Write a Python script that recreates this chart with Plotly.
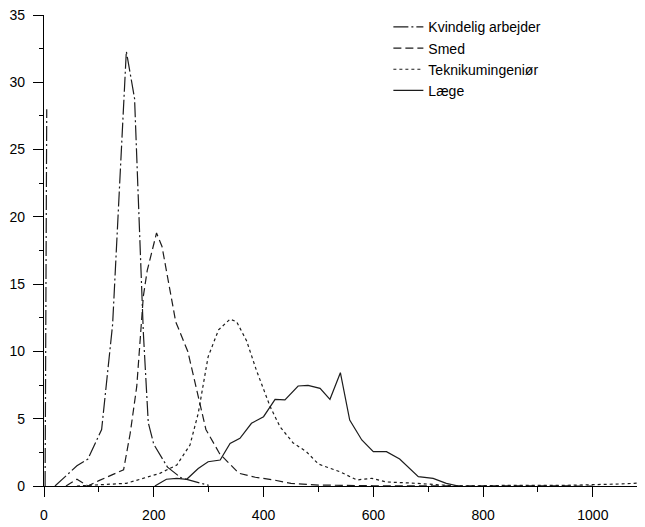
import plotly
import plotly.graph_objects


##########
# Inputs #
##########

# Income (x) and share in percent (y)
KVINDELIG_X = [2, 5, None, 20, 60, 80, 105, 125, 150, 165, 175, 181, 190, 200, 225, 250, 300]
KVINDELIG_Y = [0, 28, None, 0, 1.5, 2.0, 4.2, 12.0, 32.3, 28.8, 17.5, 11.4, 4.7, 3.1, 1.4, 0.6, 0.05]

SMED_X = [40, 60, 80, 100, 145, 157, 169, 181, 188, 205, 215, 240, 262, 280, 295, 320, 355, 385, 418, 450, 500, 600, 800, 1000]
SMED_Y = [0, 0.5, 0, 0.4, 1.2, 3.9, 7.4, 14.1, 16.0, 18.8, 17.8, 12.2, 10.0, 6.9, 4.2, 2.4, 0.95, 0.65, 0.45, 0.2, 0.07, 0.02, 0.0, 0.0]

TEKNIKUM_X = [60, 100, 150, 175, 211, 242, 266, 281, 299, 318, 339, 351, 369, 387, 412, 430, 454, 478, 500, 539, 570, 597, 624, 679, 752, 850, 950, 1050, 1100]
TEKNIKUM_Y = [0, 0.1, 0.2, 0.5, 0.94, 1.56, 3.05, 5.4, 9.6, 11.6, 12.4, 12.2, 10.8, 8.6, 5.9, 4.4, 3.2, 2.55, 1.63, 1.06, 0.45, 0.57, 0.3, 0.2, 0.0, 0.05, 0.05, 0.15, 0.25]

LAEGE_X = [202, 223, 242, 260, 281, 299, 321, 339, 357, 378, 400, 421, 439, 463, 481, 503, 521, 540, 557, 579, 600, 624, 648, 682, 709, 733, 755]
LAEGE_Y = [0, 0.5, 0.57, 0.5, 1.3, 1.8, 1.93, 3.17, 3.54, 4.66, 5.15, 6.44, 6.4, 7.43, 7.48, 7.26, 6.44, 8.42, 4.9, 3.42, 2.55, 2.55, 2.0, 0.7, 0.57, 0.2, 0]

SERIES = [
    ("Kvindelig arbejder", KVINDELIG_X, KVINDELIG_Y, "15px,3px,2px,3px"),
    ("Smed", SMED_X, SMED_Y, "8px,4px"),
    ("Teknikumingeniør", TEKNIKUM_X, TEKNIKUM_Y, "3px,3px"),
    ("Læge", LAEGE_X, LAEGE_Y, "solid"),
]

X_TICKS = [0, 200, 400, 600, 800, 1000]
Y_TICKS = [0, 5, 10, 15, 20, 25, 30, 35]

FONT = "Liberation Sans, Arial, sans-serif"


#############
# Plot data #
#############

figure = plotly.graph_objects.Figure()

for name, xs, ys, dash in SERIES:
    figure.add_trace(plotly.graph_objects.Scatter(
        x=xs,
        y=ys,
        mode="lines",
        name=name,
        connectgaps=False,
        line=dict(color="#1c1c1c", width=1.2, dash=dash),
    ))

# The page body adds an 8px margin, so the figure is 8px smaller than the window
figure.update_layout(
    width=637,
    height=519,
    margin=dict(l=36, r=0, t=7, b=41),
    paper_bgcolor="white",
    plot_bgcolor="white",
    font=dict(family=FONT, size=14, color="black"),
    showlegend=True,
    legend=dict(
        x=0.573, y=1.008, xanchor="left", yanchor="top",
        bgcolor="rgba(0,0,0,0)",
        font=dict(size=14),
        tracegroupgap=0,
    ),
)

figure.update_xaxes(
    range=[0, 1095],
    tickvals=X_TICKS,
    showgrid=False,
    zeroline=False,
    showline=True,
    linecolor="black",
    linewidth=1.2,
    ticks="outside",
    ticklen=10,
    tickwidth=1.2,
    tickcolor="black",
    ticklabelstandoff=6,
    ticklabeloverflow="allow",
    automargin=False,
    minor=dict(dtick=100, ticks="outside", ticklen=5, tickcolor="black", tickwidth=1, showgrid=False),
)

figure.update_yaxes(
    range=[0, 35],
    tickvals=Y_TICKS,
    showgrid=False,
    zeroline=False,
    showline=True,
    linecolor="black",
    linewidth=1.2,
    ticks="outside",
    ticklen=10,
    tickwidth=1.2,
    tickcolor="black",
    ticklabelstandoff=5,
    ticklabeloverflow="allow",
    automargin=False,
    minor=dict(dtick=2.5, ticks="outside", ticklen=4, tickcolor="black", tickwidth=1, showgrid=False),
)

figure.write_html("out.html")
